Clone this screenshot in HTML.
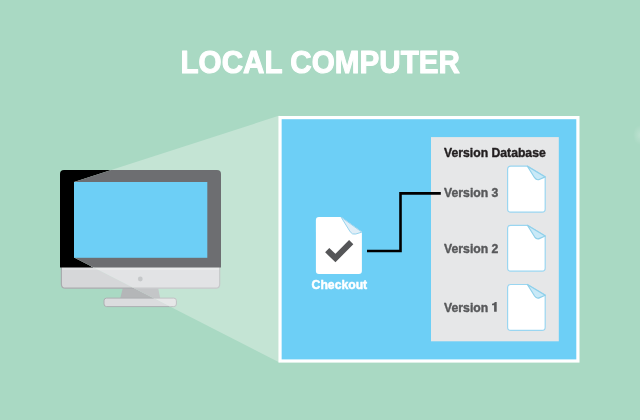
<!DOCTYPE html>
<html>
<head>
<meta charset="utf-8">
<title>Local Computer</title>
<style>
  html, body { margin: 0; padding: 0; background: #A9D9C3; }
  body { width: 640px; height: 420px; overflow: hidden; font-family: "Liberation Sans", sans-serif; }
  svg { display: block; }
  text { font-family: "Liberation Sans", sans-serif; font-weight: bold; }
</style>
</head>
<body>
<svg width="640" height="420" viewBox="0 0 640 420" style="will-change:transform">
  <!-- background -->
  <rect x="0" y="0" width="640" height="420" fill="#A9D9C3"/>

  <!-- faint edge artefact -->
  <defs>
    <radialGradient id="smudge" cx="0.5" cy="0.5" r="0.5">
      <stop offset="0" stop-color="#FFFFFF" stop-opacity="0.22"/>
      <stop offset="1" stop-color="#FFFFFF" stop-opacity="0"/>
    </radialGradient>
  </defs>
  <ellipse cx="640" cy="135" rx="7" ry="10" fill="url(#smudge)"/>

  <!-- title -->
  <text x="180.5" y="72.8" font-size="31.4" fill="#FFFFFF" stroke="#FFFFFF" stroke-width="1" stroke-linejoin="round" textLength="279.5" lengthAdjust="spacingAndGlyphs">LOCAL COMPUTER</text>

  <!-- monitor -->
  <defs>
    <clipPath id="beamclip"><path d="M74 182.1 L279.5 115.6 L279.5 362.6 L74 257.6 Z"/></clipPath>
    <g id="mon-neck"><path d="M122.8 288 L158.2 288 L160.2 298.5 L120.2 298.5 Z"/></g>
    <g id="mon-base"><rect x="104" y="298.1" width="72.4" height="8.5" rx="2.6" ry="2.6"/></g>
    <g id="mon-chin"><path d="M61.4 266.5 H219.7 V284.2 Q219.7 288.2 215.7 288.2 H65.4 Q61.4 288.2 61.4 284.2 Z"/></g>
    <g id="mon-chinhl"><rect x="62" y="267.3" width="157.1" height="2.6"/></g>
    <g id="mon-bezel"><path d="M64 170 H217 Q221 170 221 174 V267.4 H60 V174 Q60 170 64 170 Z"/></g>
  </defs>
  <!-- unlit monitor -->
  <g>
    <use href="#mon-neck" fill="#B4B6B8"/>
    <use href="#mon-base" fill="#DBDCDE" stroke="#ADAFB2" stroke-width="1"/>
    <use href="#mon-chin" fill="#D6D7D9" stroke="#A9ABAE" stroke-width="1.2"/>
    <use href="#mon-chinhl" fill="#E0E1E3"/>
    <use href="#mon-bezel" fill="#000000"/>
    <circle cx="140.3" cy="279" r="2.4" fill="#BCBEC0"/>
  </g>
  <!-- light beam -->
  <path d="M74 182.1 L279.5 115.6 L279.5 362.6 L74 257.6 Z" fill="#C4E4D4"/>
  <!-- lit monitor (inside beam) -->
  <g clip-path="url(#beamclip)">
    <use href="#mon-neck" fill="#C4C6C8"/>
    <use href="#mon-base" fill="#E6E7E8" stroke="#BFC1C3" stroke-width="1"/>
    <use href="#mon-chin" fill="#E2E3E5" stroke="#C6C8CA" stroke-width="1.2"/>
    <use href="#mon-chinhl" fill="#EAEBEC"/>
    <use href="#mon-bezel" fill="#6D6E71"/>
    <circle cx="140.3" cy="279" r="2.4" fill="#C6C8CA"/>
  </g>
  <!-- screen -->
  <rect x="74" y="182" width="133.3" height="75.8" fill="#6DCFF6"/>

  <!-- panel -->
  <rect x="280.05" y="117.6" width="297.85" height="243.4" fill="#6DCFF6" stroke="#FFFFFF" stroke-width="3.2"/>

  <!-- version database box -->
  <rect x="431" y="137.1" width="127.8" height="204.2" fill="#E6E7E8"/>
  <text x="444.1" y="157.4" font-size="13.7" fill="#231F20" stroke="#231F20" stroke-width="0.45" stroke-linejoin="round" textLength="101.6" lengthAdjust="spacingAndGlyphs">Version Database</text>

  <text x="444.1" y="196.7" font-size="13.7" fill="#58595B" stroke="#58595B" stroke-width="0.45" stroke-linejoin="round" textLength="54.3" lengthAdjust="spacingAndGlyphs">Version 3</text>
  <text x="444.1" y="253.4" font-size="13.7" fill="#58595B" stroke="#58595B" stroke-width="0.45" stroke-linejoin="round" textLength="54.3" lengthAdjust="spacingAndGlyphs">Version 2</text>
  <text x="444.1" y="311.5" font-size="13.7" fill="#58595B" stroke="#58595B" stroke-width="0.45" stroke-linejoin="round" textLength="44.1" lengthAdjust="spacingAndGlyphs">Version</text>
  <path d="M496.7 302.1 V311.7 H494.1 V305.3 H492 V303.7 Q494.3 303.6 494.9 302.1 Z" fill="#58595B"/>

  <!-- file icons -->
  <defs>
    <g id="file">
      <path d="M3.2 0 H19.8 L37.6 10.7 V42.7 Q37.6 45.9 34.4 45.9 H3.2 Q0 45.9 0 42.7 V3.2 Q0 0 3.2 0 Z" fill="#FFFFFF" stroke="#9AD6F1" stroke-width="1.2"/>
      <path d="M19.8 0 L27 11.5 Q29 14.5 32.2 13.1 L37.6 10.7 Z" fill="#C9E9F7" stroke="#8FD0EA" stroke-width="1.2" stroke-linejoin="round"/>
    </g>
  </defs>
  <use href="#file" x="507.6" y="166.2"/>
  <use href="#file" x="507.6" y="225.3"/>
  <use href="#file" x="507.6" y="284.5"/>

  <!-- connector line -->
  <path d="M367 251 H400.5 V193.4 H440.8" fill="none" stroke="#000000" stroke-width="2.6"/>

  <!-- checkout file -->
  <g id="checkout">
    <path d="M318.9 217.1 H341.1 L361.9 232.1 V270.9 Q361.9 273.9 358.9 273.9 H318.9 Q315.9 273.9 315.9 270.9 V220.1 Q315.9 217.1 318.9 217.1 Z" fill="#FFFFFF"/>
    <path d="M341.1 217.1 L350.2 231.8 Q352.3 235 355.8 234 L361.9 232.1 Z" fill="#E1EEF7" stroke="#97D3EE" stroke-width="1" stroke-linejoin="round"/>
    <path d="M327.2 250.2 L335.4 258 L351.2 242.2" fill="none" stroke="#555658" stroke-width="6"/>
  </g>
  <text x="311.6" y="288.9" font-size="12.7" fill="#FFFFFF" stroke="#FFFFFF" stroke-width="0.5" stroke-linejoin="round" textLength="55.6" lengthAdjust="spacingAndGlyphs">Checkout</text>
</svg>
</body>
</html>
